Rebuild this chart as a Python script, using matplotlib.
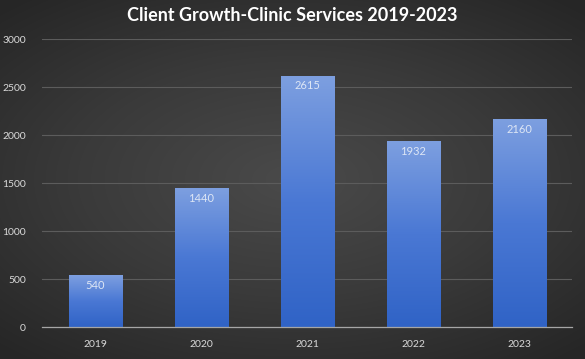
import matplotlib.pyplot as plt
import numpy as np
from matplotlib.colors import LinearSegmentedColormap

years = ["2019", "2020", "2021", "2022", "2023"]
clients = [540, 1440, 2615, 1932, 2160]
yticks = [0, 500, 1000, 1500, 2000, 2500, 3000]

plt.rcParams["font.family"] = ["Lato", "DejaVu Sans"]

fig = plt.figure(figsize=(5.85, 3.59), dpi=100)

# radial background
bg = fig.add_axes([0, 0, 1, 1], zorder=-10)
yy, xx = np.mgrid[-1:1:359j, -1:1:585j]
r = np.sqrt((xx * 0.85) ** 2 + (yy * 0.95) ** 2)
bg_cmap = LinearSegmentedColormap.from_list("bg", ["#4a4a4a", "#3a3a3a", "#262626"])
bg.imshow(r, cmap=bg_cmap, vmin=0, vmax=1.25, aspect="auto")
bg.axis("off")

ax = fig.add_axes([0.0726, 0.0891, 0.906, 0.802])
ax.patch.set_alpha(0)

bar_cmap = LinearSegmentedColormap.from_list("bar", ["#3063c6", "#4a78d4", "#7d9fe0"])
grad = np.linspace(0, 1, 256).reshape(-1, 1)

bars = ax.bar(range(len(years)), clients, width=0.5, color="none", zorder=3)
for b, v in zip(bars, clients):
    x0 = b.get_x()
    ax.imshow(grad, cmap=bar_cmap, origin="lower", aspect="auto",
              extent=[x0, x0 + b.get_width(), 0, v], zorder=3)
    ax.text(b.get_x() + b.get_width() / 2, v - 45, str(v), ha="center", va="top",
            color="#dde6f5", fontsize=8, zorder=4)

ax.set_xlim(-0.5, len(years) - 0.5)
ax.set_ylim(0, 3000)
ax.set_yticks(yticks)
ax.set_xticks(range(len(years)))
ax.set_xticklabels(years)
ax.grid(axis="y", color="#5c5c5c", linewidth=0.8, zorder=0)
ax.set_axisbelow(True)
for s in ["top", "right", "left"]:
    ax.spines[s].set_visible(False)
ax.spines["bottom"].set_color("#a6a6a6")
ax.spines["bottom"].set_linewidth(0.9)
ax.spines["bottom"].set_zorder(5)
ax.tick_params(length=0, colors="#d9d9d9", labelsize=7.5)
ax.tick_params(axis="x", pad=9)
ax.tick_params(axis="y", pad=12)

fig.text(0.5, 0.958, "Client Growth-Clinic Services 2019-2023", ha="center", va="center",
         color="white", fontsize=13, fontweight="bold")

fig.savefig("out.png", dpi=100)
